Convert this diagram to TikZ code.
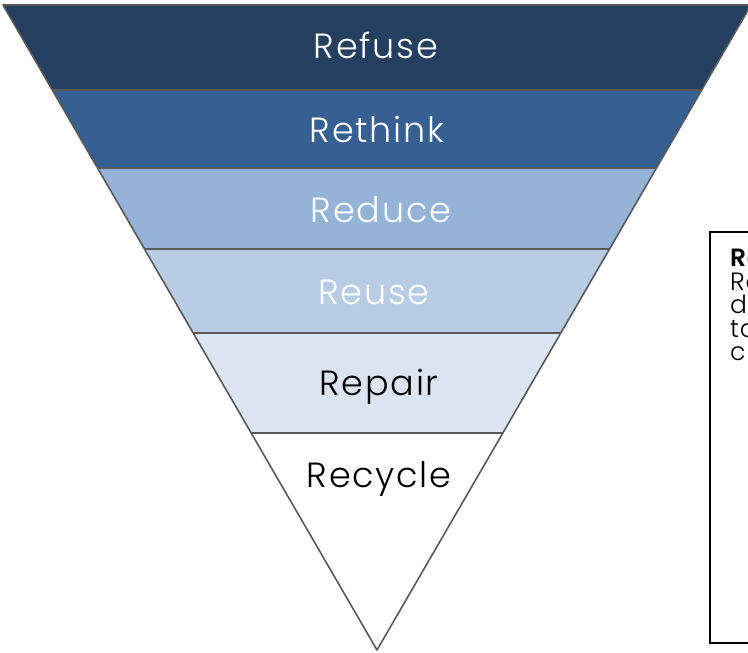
\documentclass[tikz,border=0pt]{standalone}
\usepackage{fontspec}
\setmainfont{Poppins}[UprightFont={* Light}, BoldFont={* SemiBold}]
\newfontfamily\tierfont{Poppins}[UprightFont={* Light}, LetterSpace=5]
\newfontfamily\infofont{Poppins}[UprightFont={* Light}, BoldFont={* SemiBold}, LetterSpace=3]
\usetikzlibrary{calc}

\definecolor{refusecol}{HTML}{243F60}
\definecolor{rethinkcol}{HTML}{366092}
\definecolor{reducecol}{HTML}{95B3D7}
\definecolor{reusecol}{HTML}{B8CCE4}
\definecolor{repaircol}{HTML}{DBE5F1}
\definecolor{edgecol}{HTML}{595959}

\begin{document}
\begin{tikzpicture}[x=1pt, y=-1pt,
    edge/.style={draw=edgecol, line width=1.6pt},
    tier/.style={anchor=base, font=\tierfont\fontsize{35}{40}\selectfont},
    infotext/.style={anchor=north west, align=left, inner sep=0pt, font=\infofont\fontsize{25}{23.5}\selectfont}]
    \useasboundingbox (0,0) rectangle (748,653);
    \clip (0,0) rectangle (748,653);

    % outer triangle
    \coordinate (tl) at (3,5);
    \coordinate (tr) at (751,5);
    \coordinate (apex) at (377,650);
    \foreach \n/\y in {a/90, b/168, c/249, d/333, e/433} {
        \coordinate (l\n) at ($(tl)!{(\y-5)/645}!(apex)$);
        \coordinate (r\n) at ($(tr)!{(\y-5)/645}!(apex)$);
    }

    % bands
    \fill[refusecol] (tl) -- (tr) -- (ra) -- (la) -- cycle;
    \fill[rethinkcol] (la) -- (ra) -- (rb) -- (lb) -- cycle;
    \fill[reducecol] (lb) -- (rb) -- (rc) -- (lc) -- cycle;
    \fill[reusecol] (lc) -- (rc) -- (rd) -- (ld) -- cycle;
    \fill[repaircol] (ld) -- (rd) -- (re) -- (le) -- cycle;
    \foreach \n in {a,b,c,d,e}
        \draw[edge, line width=1.3pt] (l\n) -- (r\n);
    \draw[edge, line join=round] (tl) -- (tr) -- (apex) -- cycle;

    % labels
    \node[tier, text=white] (refuse) at (376,58) {Refuse};
    \node[tier, text=white] (rethink) at (377,142) {Rethink};
    \node[tier, text=white] (reduce) at (381,222) {Reduce};
    \node[tier, text=white] (reuse) at (374,304) {Reuse};
    \node[tier, text=black] (repair) at (379,395) {Repair};
    \node[tier, text=black] (recycle) at (379,487) {Recycle};

    % info box
    \draw[black, line width=1.2pt] (710,232) rectangle (770,643);
    \node[infotext] (info) at (730,249) {\textbf{Re}\\Re\\d\\ta\\c};
\end{tikzpicture}
\end{document}
